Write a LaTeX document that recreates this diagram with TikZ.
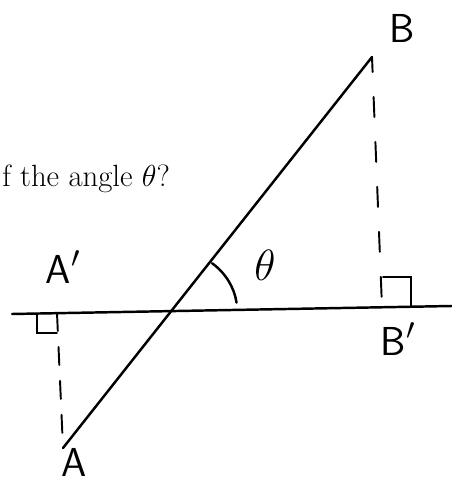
\documentclass[tikz,border=0pt]{standalone}
\usepackage{amsmath}
\usepackage{tikz}
\usetikzlibrary{calc, intersections}

\tikzset{
    hand/.style={font=\fontsize{23}{27}\selectfont\sffamily, inner sep=0pt},
    seg/.style={line width=1.4pt, line cap=round},
    perp/.style={line width=1.1pt, line cap=round}
}

\begin{document}
\begin{tikzpicture}
    \useasboundingbox (0, 0) rectangle (9.04, 9.7);

    \coordinate (A) at (1.26, 0.74);
    \coordinate (B) at (7.44, 8.56);
    \coordinate (L) at (0.24, 3.42);
    \coordinate (R) at (9.04, 3.58);
    \coordinate (Afoot) at (1.14, 3.44);
    \coordinate (Bfoot) at (7.64, 3.56);

    \draw[seg, name path=ab] (A) -- (B);
    \draw[seg, name path=axis] (L) -- (R);
    \path[name intersections={of=ab and axis, by=O}];

    % angle between the segment and the line
    \draw[seg] (O) ++(51.7:1.32 and 1.22) arc[start angle=51.7, end angle=8, x radius=1.32, y radius=1.22];
    \node[hand] (theta) at (5.3, 4.4) {$\theta$};

    % projections onto the line
    \draw[perp, dash pattern=on 0.36cm off 0.32cm] (Afoot) -- (A);
    \draw[perp, dash pattern=on 0.4cm off 0.5cm, dash phase=0.1cm] (B) -- (Bfoot);
    \draw[perp] (0.74, 3.4) -- (0.74, 3.04) -- (1.14, 3.04);
    \draw[perp] (7.66, 4.16) -- (8.22, 4.16) -- (8.22, 3.58);

    \node[hand] (labB) at (8.04, 9.14) {B};
    \node[hand] (labA) at (1.48, 0.45) {A};
    \node[hand] (labAp) at (1.26, 4.36) {A$'$};
    \node[hand] (labBp) at (7.96, 2.92) {B$'$};

    \node[anchor=base west, inner sep=0pt, font=\fontsize{17.5}{21}\selectfont] (question) at (0.04, 5.96) {f the angle $\theta$?};
\end{tikzpicture}
\end{document}
